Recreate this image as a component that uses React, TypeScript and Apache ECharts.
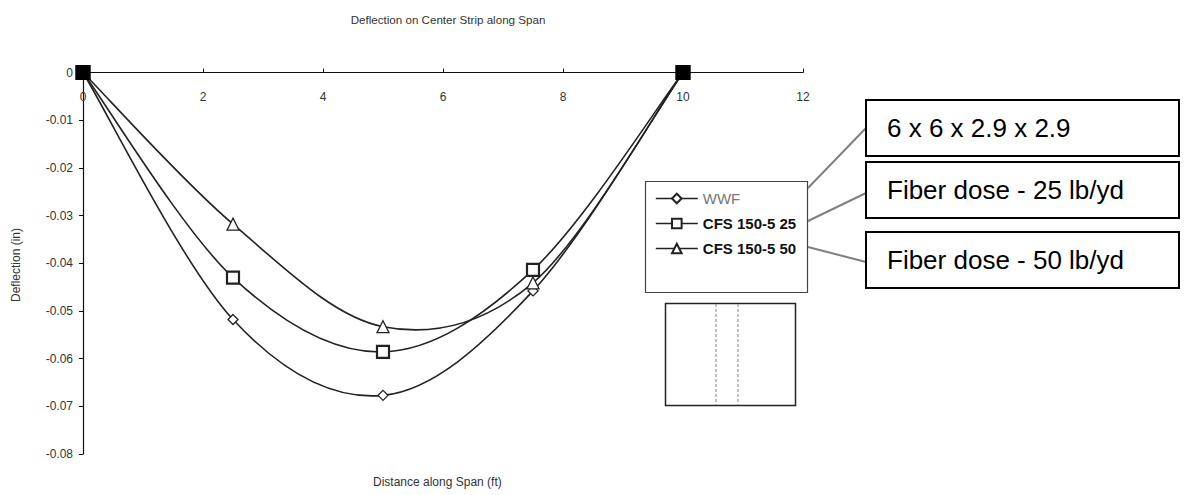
import React, { useEffect, useRef } from "react";
import * as echarts from "echarts";

const seriesNames = ["WWF", "CFS 150-5 25", "CFS 150-5 50"];
const distances = [0, 2.5, 5, 7.5, 10];
const wwfValues = [0, -0.0518, -0.0677, -0.0458, 0];
const cfs25Values = [0, -0.043, -0.0586, -0.0414, 0];
const cfs50Values = [0, -0.0318, -0.0533, -0.0441, 0];
const xTicks = [0, 2, 4, 6, 8, 10, 12];
const callouts = ["6 x 6 x 2.9 x 2.9", "Fiber dose - 25 lb/yd", "Fiber dose - 50 lb/yd"];

const FONT = "Liberation Sans, Arial, sans-serif";

function buildData(values: number[], sym: string, size: number) {
  return distances.map((x, i) => {
    const isEnd = i === 0 || i === distances.length - 1;
    if (isEnd) {
      return {
        value: [x, values[i]],
        symbol: "rect",
        symbolSize: 13,
        itemStyle: { color: "#000", borderColor: "#000" },
      };
    }
    return { value: [x, values[i]], symbol: sym, symbolSize: size };
  });
}

function smoothPath(pts: number[][]) {
  const n = pts.length;
  let d = `M${pts[0][0]},${pts[0][1]}`;
  for (let i = 0; i < n - 1; i++) {
    const p0 = pts[Math.max(0, i - 1)];
    const p1 = pts[i];
    const p2 = pts[i + 1];
    const p3 = pts[Math.min(n - 1, i + 2)];
    const t = 1 / 6;
    const c1x = p1[0] + (p2[0] - p0[0]) * t;
    const c1y = p1[1] + (p2[1] - p0[1]) * t;
    const c2x = p2[0] - (p3[0] - p1[0]) * t;
    const c2y = p2[1] - (p3[1] - p1[1]) * t;
    d += ` C${c1x},${c1y} ${c2x},${c2y} ${p2[0]},${p2[1]}`;
  }
  return d;
}

export default function App() {
  const ref = useRef<HTMLDivElement>(null);
  useEffect(() => {
    if (!ref.current) return;
    const chart = echarts.init(ref.current, undefined, { renderer: "svg" });
    const symbols = [
      { sym: "diamond", size: 10, bw: 1.3 },
      { sym: "rect", size: 12, bw: 2.2 },
      { sym: "triangle", size: 12, bw: 1.3 },
    ];
    const valueSets = [wwfValues, cfs25Values, cfs50Values];
    const legendLine = { color: "#222", width: 1.6, opacity: 1 };

    const curveSeries = valueSets.map((vals, k) => ({
      type: "custom",
      name: "curve" + k,
      silent: true,
      z: 2,
      data: distances.map((x, i) => [x, vals[i]]),
      renderItem: (params: any, api: any) => {
        if (params.dataIndex !== 0) return null;
        const pts = distances.map((x, i) => api.coord([x, vals[i]]));
        return {
          type: "path",
          shape: { pathData: smoothPath(pts) },
          style: { fill: "none", stroke: "#222", lineWidth: 1.6 },
        };
      },
    }));

    const markerSeries = seriesNames.map((name, i) => ({
      name,
      type: "line",
      data: buildData(valueSets[i], symbols[i].sym, symbols[i].size),
      symbol: symbols[i].sym,
      symbolSize: symbols[i].size,
      showAllSymbol: true,
      lineStyle: { color: "#222", width: 1.6, opacity: 0 },
      itemStyle: { color: "#fff", borderColor: "#222", borderWidth: symbols[i].bw },
      z: 3 + i,
    }));

    const legendText = (bold: boolean, color: string) => ({
      color,
      fontWeight: bold ? "bold" : "normal",
      fontSize: 15,
      fontFamily: FONT,
    });

    const option: any = {
      animation: false,
      backgroundColor: "#fff",
      title: {
        text: "Deflection on Center Strip along Span",
        left: 443,
        textAlign: "center",
        top: 8,
        textStyle: { fontFamily: FONT, fontSize: 11.6, fontWeight: "normal", color: "#333" },
      },
      grid: { left: 83, top: 72.5, width: 720, height: 381.5, containLabel: false },
      xAxis: {
        type: "value",
        min: xTicks[0],
        max: xTicks[xTicks.length - 1],
        interval: xTicks[1] - xTicks[0],
        position: "top",
        axisLine: { onZero: false, lineStyle: { color: "#111", width: 1.2 } },
        axisTick: { show: true, length: 4, lineStyle: { color: "#111" } },
        axisLabel: { inside: true, fontFamily: FONT, fontSize: 12, color: "#333", margin: 18 },
        splitLine: { show: false },
      },
      yAxis: {
        type: "value",
        min: -0.08,
        max: 0,
        interval: 0.01,
        axisLine: { show: true, lineStyle: { color: "#111", width: 1.2 } },
        axisTick: { show: true, length: 4, lineStyle: { color: "#111" } },
        axisLabel: {
          fontFamily: FONT,
          fontSize: 12,
          color: "#333",
          margin: 10,
          formatter: (v: number) => (Math.abs(v) < 1e-9 ? "0" : v.toFixed(2)),
        },
        splitLine: { show: false },
      },
      legend: {
        orient: "vertical",
        left: 650,
        top: 186,
        itemWidth: 42,
        itemHeight: 12,
        itemGap: 10,
        data: [
          { name: seriesNames[0], lineStyle: legendLine, textStyle: legendText(false, "#777") },
          { name: seriesNames[1], lineStyle: legendLine, textStyle: legendText(true, "#111") },
          { name: seriesNames[2], lineStyle: legendLine, textStyle: legendText(true, "#111") },
        ],
      },
      series: [...curveSeries, ...markerSeries],
      graphic: [
        {
          type: "text",
          left: 373,
          top: 476,
          style: { text: "Distance along Span (ft)", font: `12px ${FONT}`, fill: "#333" },
        },
        {
          type: "text",
          x: 10,
          y: 302,
          rotation: Math.PI / 2,
          style: { text: "Deflection (in)", font: `12px ${FONT}`, fill: "#333" },
        },
        {
          type: "rect",
          shape: { x: 645.5, y: 181.5, width: 162, height: 111 },
          style: { fill: "none", stroke: "#444", lineWidth: 1.2 },
          z: 1,
        },
        {
          type: "rect",
          shape: { x: 665.5, y: 303.5, width: 130, height: 102 },
          style: { fill: "none", stroke: "#222", lineWidth: 1.5 },
        },
        {
          type: "line",
          shape: { x1: 716, y1: 304, x2: 716, y2: 405 },
          style: { stroke: "#999", lineWidth: 1.2, lineDash: [3, 2] },
        },
        {
          type: "line",
          shape: { x1: 738, y1: 304, x2: 738, y2: 405 },
          style: { stroke: "#999", lineWidth: 1.2, lineDash: [3, 2] },
        },
        {
          type: "line",
          shape: { x1: 866, y1: 128, x2: 808, y2: 188 },
          style: { stroke: "#808080", lineWidth: 2 },
        },
        {
          type: "line",
          shape: { x1: 866, y1: 193, x2: 808, y2: 221 },
          style: { stroke: "#808080", lineWidth: 2 },
        },
        {
          type: "line",
          shape: { x1: 866, y1: 262, x2: 808, y2: 247 },
          style: { stroke: "#808080", lineWidth: 2 },
        },
        ...[100, 162, 232].map((y, i) => ({
          type: "group",
          children: [
            {
              type: "rect",
              shape: { x: 866, y, width: 313, height: 56 },
              style: { fill: "#fff", stroke: "#000", lineWidth: 2 },
            },
            {
              type: "text",
              x: 887,
              y: y + 28,
              style: {
                text: callouts[i],
                font: `26px ${FONT}`,
                fill: "#000",
                verticalAlign: "middle",
              },
            },
          ],
        })),
      ],
    };
    chart.setOption(option);
    return () => chart.dispose();
  }, []);
  return (
    <div
      ref={ref}
      style={{ position: "fixed", left: 0, top: 0, width: 1187, height: 495, background: "#fff" }}
    />
  );
}
